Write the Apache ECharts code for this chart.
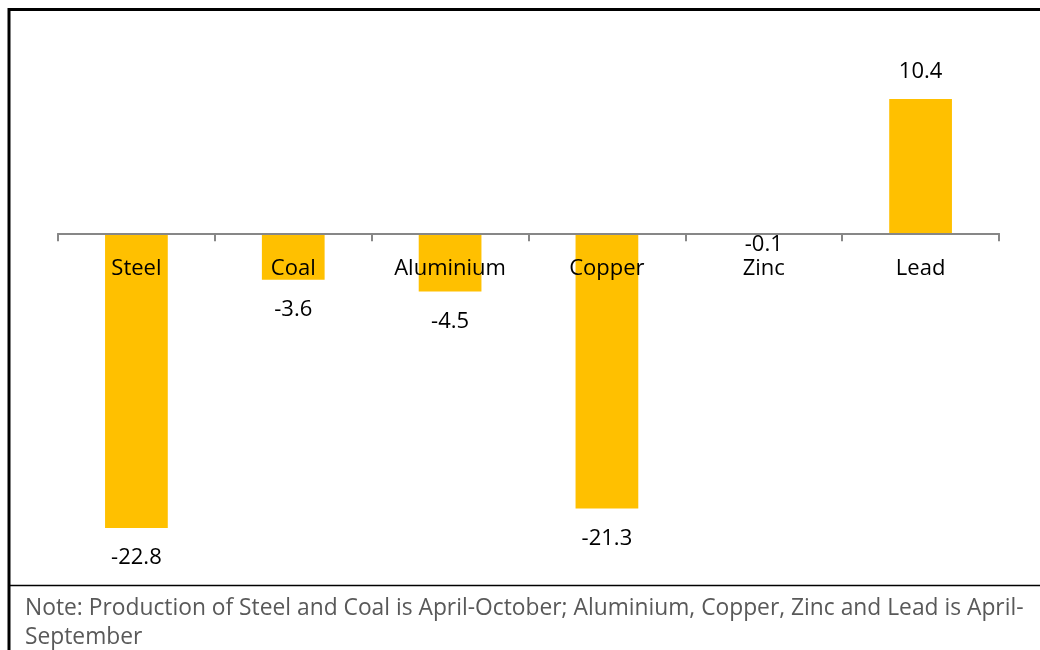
<!DOCTYPE html>
<html>
<head>
<meta charset="utf-8">
<script src="https://cdn.jsdelivr.net/npm/echarts@6/dist/echarts.min.js"></script>
<style>
html,body{margin:0;padding:0;background:#fff;}
#chart{width:1040px;height:650px;}
</style>
</head>
<body>
<div id="chart"></div>
<script>
const categories = ['Steel', 'Coal', 'Aluminium', 'Copper', 'Zinc', 'Lead'];
const growth = [-22.8, -3.6, -4.5, -21.3, -0.1, 10.4];
const noteText = 'Note: Production of Steel and Coal is April-October; Aluminium, Copper, Zinc and Lead is April-\nSeptember';

const FONT = '"Open Sans", "Noto Sans", sans-serif';
const Y_MIN = -25, Y_MAX = 15;
const GRID_TOP = 39.5, GRID_BOTTOM = 93.7, CHART_H = 650;
const plotH = CHART_H - GRID_TOP - GRID_BOTTOM;
const zeroOffset = -plotH * (0 - Y_MIN) / (Y_MAX - Y_MIN);

const barData = growth.map(v => {
  const item = { value: v, label: { position: v >= 0 ? 'top' : 'bottom' } };
  if (v >= 0) item.label.distance = 16;
  if (Math.abs(v) < 1) item.label.distance = -1;
  return item;
});

const chart = echarts.init(document.getElementById('chart'), null, { renderer: 'canvas' });
chart.setOption({
  backgroundColor: '#ffffff',
  animation: false,
  grid: { left: 58, right: 41, top: GRID_TOP, bottom: GRID_BOTTOM, containLabel: false },
  xAxis: {
    type: 'category',
    data: categories,
    z: 10,
    position: 'bottom',
    offset: zeroOffset,
    axisLine: { onZero: false, lineStyle: { color: '#878787', width: 2 } },
    axisTick: { show: true, length: 8, alignWithLabel: false, lineStyle: { color: '#878787', width: 2 } },
    axisLabel: { margin: 24, color: '#000000', fontFamily: FONT, fontSize: 22 },
    splitLine: { show: false }
  },
  yAxis: {
    type: 'value',
    min: Y_MIN,
    max: Y_MAX,
    interval: 5,
    show: false,
    splitLine: { show: false }
  },
  series: [{
    type: 'bar',
    data: barData,
    barWidth: '40%',
    z: 2,
    itemStyle: { color: '#FFC000' },
    label: {
      show: true,
      distance: 19,
      color: '#000000',
      fontFamily: FONT,
      fontSize: 22,
      formatter: p => p.value.toFixed(1)
    }
  }],
  graphic: [
    { type: 'line', shape: { x1: 9, y1: 8, x2: 9, y2: 650 }, style: { stroke: '#000', lineWidth: 3 } },
    { type: 'line', shape: { x1: 8, y1: 9.5, x2: 1040, y2: 9.5 }, style: { stroke: '#000', lineWidth: 3 } },
    { type: 'line', shape: { x1: 8, y1: 585.5, x2: 1040, y2: 585.5 }, style: { stroke: '#000', lineWidth: 1.5 } },
    {
      type: 'text',
      left: 25,
      top: 594,
      style: {
        text: noteText,
        fill: '#595959',
        font: '22.8px ' + FONT,
        lineHeight: 29
      }
    }
  ]
});
</script>
</body>
</html>
